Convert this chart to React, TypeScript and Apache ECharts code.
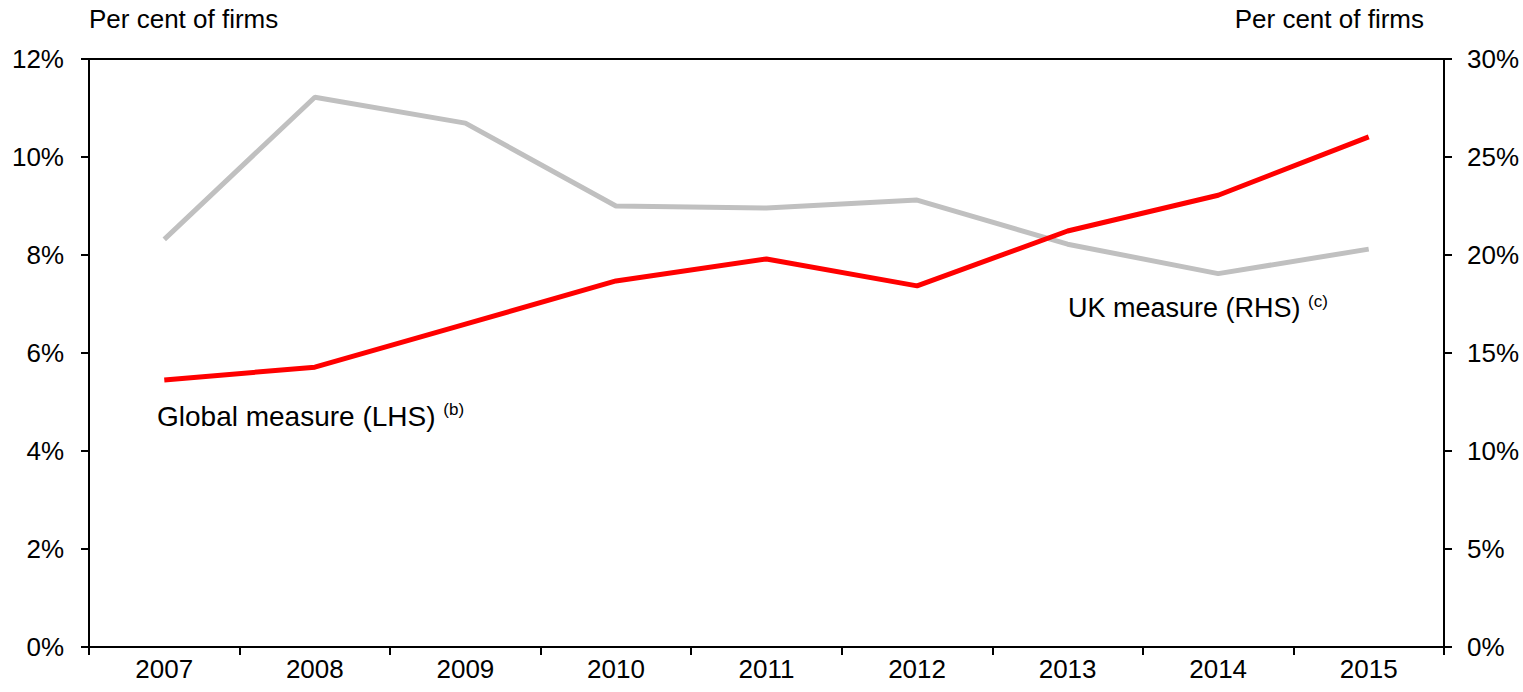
import React, { useEffect, useRef } from "react";
import * as echarts from "echarts";

const years = ["2007", "2008", "2009", "2010", "2011", "2012", "2013", "2014", "2015"];
const globalMeasure = [5.45, 5.71, 6.59, 7.47, 7.92, 7.37, 8.49, 9.22, 10.41];
const ukMeasure = [20.8, 28.05, 26.73, 22.5, 22.4, 22.8, 20.55, 19.05, 20.3];

const FONT = "'Liberation Sans', Arial, sans-serif";

export default function App() {
  const ref = useRef<HTMLDivElement>(null);
  useEffect(() => {
    if (!ref.current) return;
    const chart = echarts.init(ref.current, null, { renderer: "svg" });
    chart.setOption({
      animation: false,
      backgroundColor: "#fff",
      textStyle: { fontFamily: FONT },
      grid: {
        left: 89,
        right: 79,
        top: 59,
        bottom: 45,
        show: true,
        borderColor: "#000",
        borderWidth: 2,
        backgroundColor: "transparent",
      },
      xAxis: {
        type: "category",
        data: years,
        boundaryGap: true,
        axisLine: { show: true, lineStyle: { color: "#000", width: 2 } },
        axisTick: { show: true, length: 8, lineStyle: { color: "#000", width: 2 } },
        axisLabel: { color: "#000", fontSize: 26, fontFamily: FONT, margin: 9 },
        splitLine: { show: false },
      },
      yAxis: [
        {
          type: "value",
          min: 0,
          max: 12,
          interval: 2,
          position: "left",
          axisLine: { show: true, lineStyle: { color: "#000", width: 2 } },
          axisTick: { show: true, length: 8, lineStyle: { color: "#000", width: 2 } },
          axisLabel: { color: "#000", fontSize: 26, fontFamily: FONT, margin: 25, formatter: "{value}%" },
          splitLine: { show: false },
        },
        {
          type: "value",
          min: 0,
          max: 30,
          interval: 5,
          position: "right",
          axisLine: { show: true, lineStyle: { color: "#000", width: 2 } },
          axisTick: { show: true, length: 8, lineStyle: { color: "#000", width: 2 } },
          axisLabel: { color: "#000", fontSize: 26, fontFamily: FONT, margin: 23, formatter: "{value}%" },
          splitLine: { show: false },
        },
      ],
      series: [
        {
          name: "UK measure (RHS)",
          type: "line",
          yAxisIndex: 1,
          data: ukMeasure,
          symbol: "none",
          lineStyle: { color: "#c0c0c0", width: 5 },
          z: 2,
        },
        {
          name: "Global measure (LHS)",
          type: "line",
          yAxisIndex: 0,
          data: globalMeasure,
          symbol: "none",
          lineStyle: { color: "#ff0000", width: 5 },
          z: 3,
        },
      ],
      graphic: [
        {
          type: "text",
          left: 89,
          top: 6,
          style: { text: "Per cent of firms", fontSize: 26, fontFamily: FONT, fill: "#000" },
        },
        {
          type: "text",
          right: 99,
          top: 6,
          style: { text: "Per cent of firms", fontSize: 26, fontFamily: FONT, fill: "#000" },
        },
        {
          type: "text",
          left: 157,
          top: 401,
          style: {
            text: "Global measure (LHS) {s|(b)}",
            fontSize: 28,
            fontFamily: FONT,
            fill: "#000",
            rich: { s: { fontSize: 17, fontFamily: FONT, fill: "#000", verticalAlign: "top", padding: [0, 0, 13, 0] } },
          },
        },
        {
          type: "text",
          left: 1068,
          top: 293,
          style: {
            text: "UK measure (RHS) {s|(c)}",
            fontSize: 27,
            fontFamily: FONT,
            fill: "#000",
            rich: { s: { fontSize: 17, fontFamily: FONT, fill: "#000", verticalAlign: "top", padding: [0, 0, 13, 0] } },
          },
        },
      ],
    });
    return () => chart.dispose();
  }, []);
  return (
    <div
      ref={ref}
      style={{ position: "absolute", left: 0, top: 0, width: 1523, height: 692 }}
    />
  );
}
